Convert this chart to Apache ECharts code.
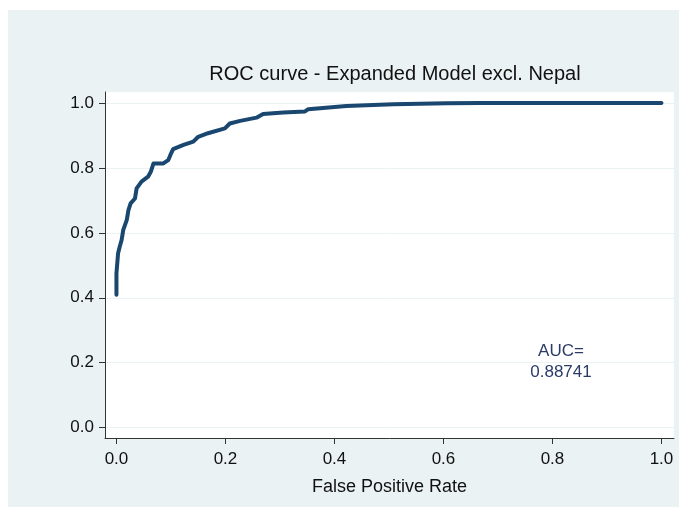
<!DOCTYPE html>
<html>
<head>
<meta charset="utf-8">
<script src="https://cdn.jsdelivr.net/npm/echarts@6/dist/echarts.min.js"></script>
<style>
  html, body { margin: 0; padding: 0; background: #fff; }
  #chart { width: 681px; height: 515px; }
</style>
</head>
<body>
<div id="chart"></div>
<script>
// ROC points
var fpr = [0, 0, 0.003, 0.006, 0.0095, 0.0125, 0.019, 0.022, 0.026, 0.034, 0.037, 0.046, 0.058, 0.063, 0.068, 0.086,
    0.095, 0.099, 0.104, 0.123, 0.141, 0.150, 0.168, 0.199, 0.208, 0.227, 0.257, 0.269, 0.306, 0.346, 0.352,
    0.422, 0.508, 0.606, 0.667, 1.0];
var tpr = [0.409, 0.475, 0.537, 0.557, 0.578, 0.609, 0.640, 0.670, 0.691, 0.706, 0.737, 0.758, 0.773, 0.788, 0.814, 0.814,
    0.824, 0.840, 0.858, 0.871, 0.881, 0.896, 0.907, 0.922, 0.937, 0.945, 0.955, 0.966, 0.971, 0.974, 0.981,
    0.991, 0.996, 0.999, 1.0, 1.0];
var ticks = [0, 0.2, 0.4, 0.6, 0.8, 1.0];
var titleText = 'ROC curve - Expanded Model excl. Nepal';
var xName = 'False Positive Rate';
var aucLines = ['AUC=', '0.88741'];

var points = [];
for (var i = 0; i < fpr.length; i++) {
    points.push([fpr[i], tpr[i]]);
}

var font = 'Arial, "Liberation Sans", sans-serif';
var axisColor = '#333';

var chart = echarts.init(document.getElementById('chart'));
var option = {
    backgroundColor: '#fff',
    animation: false,
    textStyle: { fontFamily: font },
    title: {
        text: titleText,
        left: 390,
        textAlign: 'center',
        top: 59,
        textStyle: { fontSize: 20, fontWeight: 'normal', color: '#111', fontFamily: font }
    },
    graphic: [{
        type: 'rect',
        shape: { x: 8, y: 10, width: 671, height: 497 },
        style: { fill: '#eaf2f3' },
        z: -10,
        silent: true
    }, {
        type: 'text',
        x: 561,
        y: 362,
        style: {
            text: aucLines.join('\n'),
            align: 'center',
            verticalAlign: 'middle',
            fill: '#2a3b66',
            font: '17px ' + font,
            lineHeight: 21
        },
        z: 100
    }],
    grid: {
        left: 105,
        right: 7,
        top: 92,
        bottom: 77,
        show: true,
        backgroundColor: '#fff',
        borderWidth: 0
    },
    xAxis: {
        type: 'value',
        min: -0.021,
        max: 1.023,
        name: xName,
        nameLocation: 'middle',
        nameGap: 40,
        nameTextStyle: { fontSize: 18, color: '#111', fontFamily: font },
        axisLine: { show: true, onZero: false, lineStyle: { color: axisColor, width: 1 } },
        axisTick: { show: true, length: 6, customValues: ticks, lineStyle: { color: axisColor } },
        axisLabel: {
            customValues: ticks,
            margin: 13,
            fontSize: 17,
            color: '#111',
            formatter: function (v) { return v.toFixed(1); }
        },
        splitLine: { show: false }
    },
    yAxis: {
        type: 'value',
        min: -0.032,
        max: 1.034,
        axisLine: { show: true, onZero: false, lineStyle: { color: axisColor, width: 1 } },
        axisTick: { show: true, length: 6, customValues: ticks, lineStyle: { color: axisColor } },
        axisLabel: {
            customValues: ticks,
            margin: 11,
            fontSize: 17,
            color: '#111',
            formatter: function (v) { return v.toFixed(1); }
        },
        splitLine: { show: true, lineStyle: { color: '#eaf2f3', width: 1 } }
    },
    series: [{
        type: 'line',
        data: points,
        showSymbol: false,
        smooth: false,
        lineStyle: { color: '#1a476f', width: 4, cap: 'round', join: 'round' },
        z: 5
    }]
};
chart.setOption(option);
</script>
</body>
</html>
